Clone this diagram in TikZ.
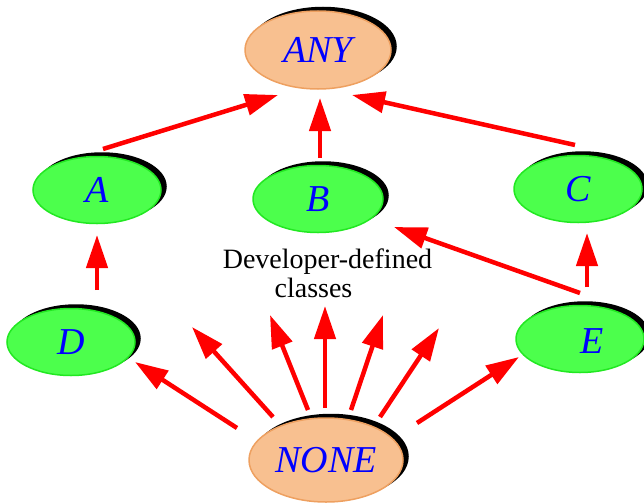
\documentclass[tikz,border=0pt]{standalone}
\usepackage{fontspec}
\setmainfont{Liberation Serif}
\usetikzlibrary{shapes.geometric,arrows.meta,shadows}
\definecolor{orfill}{RGB}{248,192,144}
\definecolor{ordraw}{RGB}{238,160,96}
\definecolor{grfill}{RGB}{76,255,76}
\definecolor{grdraw}{RGB}{34,232,34}
\begin{document}
\begin{tikzpicture}[x=1pt,y=-1pt,
  cls/.style={ellipse, inner sep=0pt, line width=1.5pt,
    font=\fontsize{38}{40}\selectfont\itshape, text=blue,
    general shadow={shadow xshift=5pt, shadow yshift=3.5pt, fill=black, draw=black, line width=1.5pt}},
  top/.style={cls, fill=orfill, draw=ordraw},
  dev/.style={cls, fill=grfill, draw=grdraw, minimum width=128pt, minimum height=67pt},
  lbl/.style={font=\fontsize{38}{40}\selectfont\itshape, text=blue, inner sep=0pt},
  note/.style={font=\fontsize{28}{30}\selectfont, anchor=base, inner sep=0pt},
  arr/.style={draw=red, line width=4.5pt, -{Triangle[length=33pt,width=21pt]}}]
\useasboundingbox (0,0) rectangle (644,503);

% nodes
\node[top, minimum width=146pt, minimum height=78pt] (ANY) at (318,50) {ANY};
\node[dev] (A) at (97,190) {A};
\node[dev, minimum width=130pt] (B) at (318,199) {B};
\node[dev] (C) at (578,189) {C};
\node[dev] (D) at (71,342) {D};
\node[dev] (E) at (580,339) {};
\node[lbl] (Elbl) at (592,341) {E};
\node[top, minimum width=154pt, minimum height=84pt] (NONE) at (326,460) {NONE};

\node[note] (dev1) at (327.5,268) {Developer-defined};
\node[note] (dev2) at (313.5,297) {classes};

% connector end points
\coordinate (a0) at (103,149);  \coordinate (a1) at (278,95);
\coordinate (b0) at (320,158);  \coordinate (b1) at (320,98);
\coordinate (c0) at (575,145);  \coordinate (c1) at (352,95);
\coordinate (d0) at (97,290);   \coordinate (d1) at (97,235);
\coordinate (e0) at (587,287);  \coordinate (e1) at (587,233);
\coordinate (f0) at (580,293);  \coordinate (f1) at (394,227);
\coordinate (n0) at (237,428);  \coordinate (n1) at (135,362);
\coordinate (m0) at (417,423);  \coordinate (m1) at (519,357);
\coordinate (p0) at (273,417);  \coordinate (p1) at (192,327);
\coordinate (q0) at (308,410);  \coordinate (q1) at (270,315);
\coordinate (r0) at (325,408);  \coordinate (r1) at (325,306);
\coordinate (s0) at (351,410);  \coordinate (s1) at (383,315);
\coordinate (t0) at (380,417);  \coordinate (t1) at (439,328);

% connectors
\draw[arr] (a0) -- (a1);
\draw[arr] (b0) -- (b1);
\draw[arr] (c0) -- (c1);
\draw[arr] (d0) -- (d1);
\draw[arr] (e0) -- (e1);
\draw[arr] (f0) -- (f1);
\draw[arr] (n0) -- (n1);
\draw[arr] (m0) -- (m1);
\draw[arr] (p0) -- (p1);
\draw[arr] (q0) -- (q1);
\draw[arr] (r0) -- (r1);
\draw[arr] (s0) -- (s1);
\draw[arr] (t0) -- (t1);
\end{tikzpicture}
\end{document}
